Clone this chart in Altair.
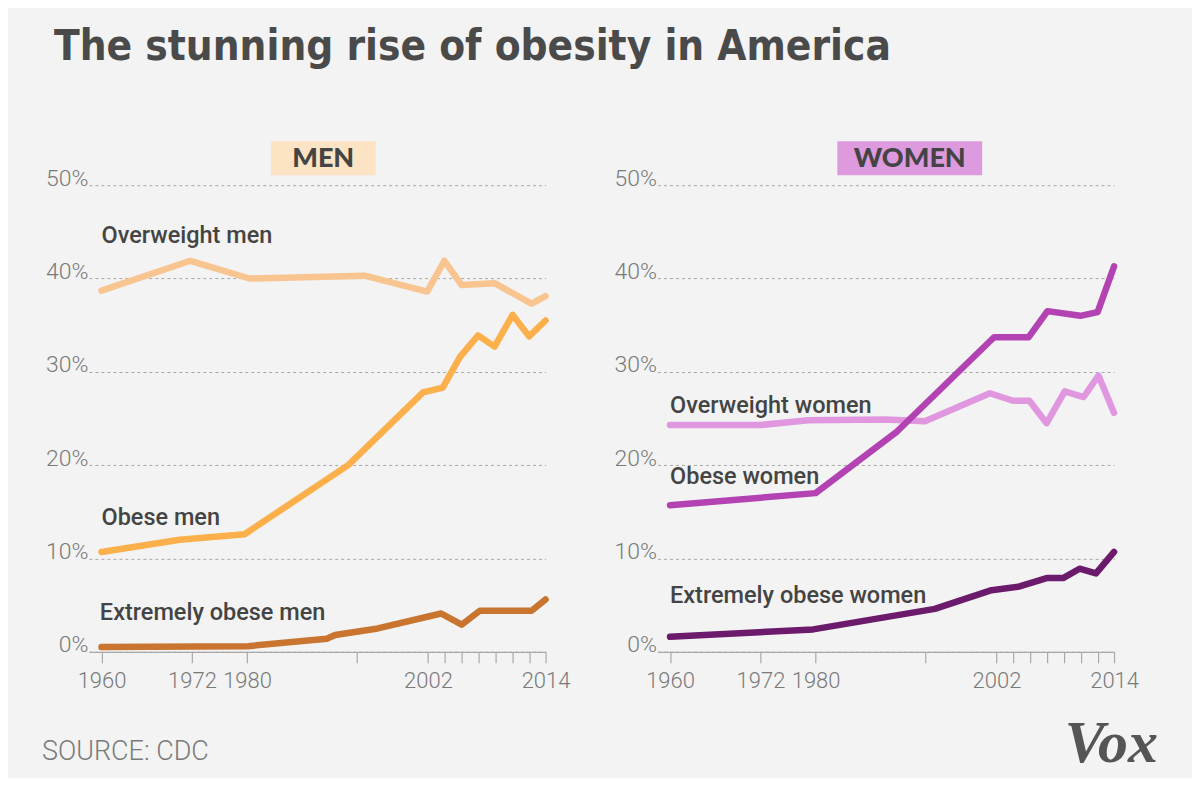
import altair as alt
import pandas as pd

# ---------------- data ----------------
men_overweight_years = [1960, 1970.8, 1978.0, 1992.0, 1999.6, 2001.7, 2003.8, 2007.8, 2012.3, 2014]
men_overweight_vals = [38.7, 41.9, 40.0, 40.3, 38.6, 41.9, 39.3, 39.5, 37.3, 38.1]

men_obese_years = [1960, 1969.5, 1977.4, 1990.0, 1999.1, 2001.5, 2003.6, 2005.8, 2007.8, 2010.0, 2012.0, 2014]
men_obese_vals = [10.7, 12.0, 12.6, 20.0, 27.8, 28.3, 31.6, 33.9, 32.7, 36.1, 33.8, 35.5]

men_extreme_years = [1960, 1977.8, 1987.4, 1988.4, 1993.6, 2001.3, 2003.8, 2006.0, 2012.3, 2014]
men_extreme_vals = [0.5, 0.6, 1.4, 1.8, 2.5, 4.1, 2.9, 4.4, 4.4, 5.6]

women_overweight_years = [1960, 1971.0, 1976.8, 1986.2, 1991.0, 1998.9, 2001.7, 2003.7, 2005.8, 2008.0, 2010.3, 2012.1, 2014]
women_overweight_vals = [24.3, 24.3, 24.8, 24.9, 24.7, 27.7, 26.9, 26.9, 24.5, 27.9, 27.3, 29.6, 25.6]

women_obese_years = [1960, 1977.7, 1987.6, 1999.4, 2003.6, 2005.9, 2009.9, 2012.0, 2014]
women_obese_vals = [15.7, 17.0, 23.6, 33.7, 33.7, 36.5, 36.0, 36.4, 41.3]

women_extreme_years = [1960, 1977.4, 1992.2, 1999.1, 2002.5, 2005.8, 2007.8, 2009.8, 2011.8, 2014]
women_extreme_vals = [1.6, 2.4, 4.6, 6.6, 7.0, 7.9, 7.9, 8.9, 8.4, 10.7]

series_names = ["Overweight men", "Obese men", "Extremely obese men",
                "Overweight women", "Obese women", "Extremely obese women"]
series_colors = ["#f8c490", "#fcb04c", "#c97530", "#e097e0", "#b343b3", "#6c1a6c"]

# label anchor points (year, percent)
men_label_years = [1960, 1960, 1959.8]
men_label_vals = [43.8, 13.6, 3.4]
women_label_years = [1960, 1960, 1960]
women_label_vals = [25.6, 18.0, 5.2]

tick_years = [1960, 1971, 1977.7, 1991, 1999.7, 2001.75, 2003.75, 2005.85, 2007.9, 2010, 2012, 2014]
tick_labels = ["1960", "1972", "1980", "", "2002", "", "", "", "", "", "", "2014"]
y_ticks = [0, 10, 20, 30, 40, 50]

headers = ["MEN", "WOMEN"]
header_colors = ["#fbe3c3", "#dd9ade"]

# ---------------- styling ----------------
BG = "#f2f3f2"
W, H = 457, 467
TXT = "#444444"
AX = "#7a7a7a"

xscale = alt.Scale(domain=[1958.47, 2014], nice=False, zero=False)
yscale = alt.Scale(domain=[0, 50], nice=False)

label_expr = "[" + ",".join("'%s'" % t for t in tick_labels) + "][indexof([" + \
    ",".join(str(v) for v in tick_years) + "], datum.value)]"

xaxis = alt.Axis(values=tick_years, labelExpr=label_expr, grid=False, domain=True,
                 domainColor="#a8a8a8", domainWidth=1.2, ticks=True, tickColor="#a8a8a8",
                 tickSize=11, tickWidth=1.2, labelPadding=8, labelFont="Roboto",
                 labelFontWeight=300, labelFontSize=22, labelColor=AX,
                 labelOverlap=False, labelFlush=False, title=None)
yaxis = alt.Axis(values=y_ticks, labelExpr="datum.value + '%'", grid=True,
                 gridColor="#a8a8a8", gridDash=[3, 3], gridWidth=1, domain=False,
                 ticks=False, labelPadding=1, labelBaseline="alphabetic",
                 labelFont="Roboto", labelFontWeight=300, labelFontSize=23,
                 labelColor=AX, title=None)


def line_layer(years, vals, color):
    df = pd.DataFrame({"year": years, "pct": vals})
    return alt.Chart(df).mark_line(color=color, strokeWidth=6.5, strokeCap="round",
                                   strokeJoin="round").encode(
        x=alt.X("year:Q", scale=xscale, axis=xaxis),
        y=alt.Y("pct:Q", scale=yscale, axis=yaxis),
    )


def label_layer(years, vals, texts):
    df = pd.DataFrame({"year": years, "pct": vals, "label": texts})
    return alt.Chart(df).mark_text(align="left", baseline="alphabetic", font="Roboto",
                                   fontSize=23.5, fontWeight=500, color=TXT).encode(
        x=alt.X("year:Q", scale=xscale, axis=xaxis),
        y=alt.Y("pct:Q", scale=yscale, axis=yaxis),
        text="label:N",
    )


def header_layers(text, color, x1, x2):
    df = pd.DataFrame({"header": [text]})
    box = alt.Chart(df).mark_rect(color=color).encode(
        x=alt.value(x1), x2=alt.value(x2), y=alt.value(-44), y2=alt.value(-10))
    lab = alt.Chart(df).mark_text(font="Lato", fontWeight=900, fontSize=27, color=TXT,
                                  align="center", baseline="middle").encode(
        x=alt.value((x1 + x2) / 2), y=alt.value(-26), text="header:N")
    return [box, lab]


men_layers = [
    line_layer(men_overweight_years, men_overweight_vals, series_colors[0]),
    line_layer(men_obese_years, men_obese_vals, series_colors[1]),
    line_layer(men_extreme_years, men_extreme_vals, series_colors[2]),
    label_layer(men_label_years, men_label_vals, series_names[0:3]),
] + header_layers(headers[0], header_colors[0], 182, 287)

source_df = pd.DataFrame({"t": ["SOURCE: CDC"]})
men_layers.append(
    alt.Chart(source_df).mark_text(font="Roboto", fontWeight=300, fontSize=27, color=AX,
                                   align="left", baseline="alphabetic").encode(
        x=alt.value(-47), y=alt.value(575), text="t:N"))

women_layers = [
    line_layer(women_overweight_years, women_overweight_vals, series_colors[3]),
    line_layer(women_obese_years, women_obese_vals, series_colors[4]),
    line_layer(women_extreme_years, women_extreme_vals, series_colors[5]),
    label_layer(women_label_years, women_label_vals, series_names[3:6]),
] + header_layers(headers[1], header_colors[1], 180, 325)

vox_df = pd.DataFrame({"t": ["Vox"]})
women_layers.append(
    alt.Chart(vox_df).mark_text(font="Liberation Serif", fontWeight="bold", fontStyle="italic",
                                fontSize=60, color="#555555", align="right",
                                baseline="alphabetic").encode(
        x=alt.value(501), y=alt.value(577), text="t:N"))

men = alt.layer(*men_layers).properties(width=W, height=H)
women = alt.layer(*women_layers).properties(width=W, height=H)

chart = alt.hconcat(men, women, spacing=43).properties(
    title=alt.TitleParams("The stunning rise of obesity in America", anchor="start",
                          font="DejaVu Sans Condensed", fontWeight="bold", fontSize=42,
                          color="#4a4a4a", dx=12, offset=72),
    padding={"left": 34, "top": 18, "right": 34, "bottom": 4},
).configure(background=BG).configure_view(stroke=None)

chart.save("out.html", embed_options={"renderer": "svg", "actions": False})
